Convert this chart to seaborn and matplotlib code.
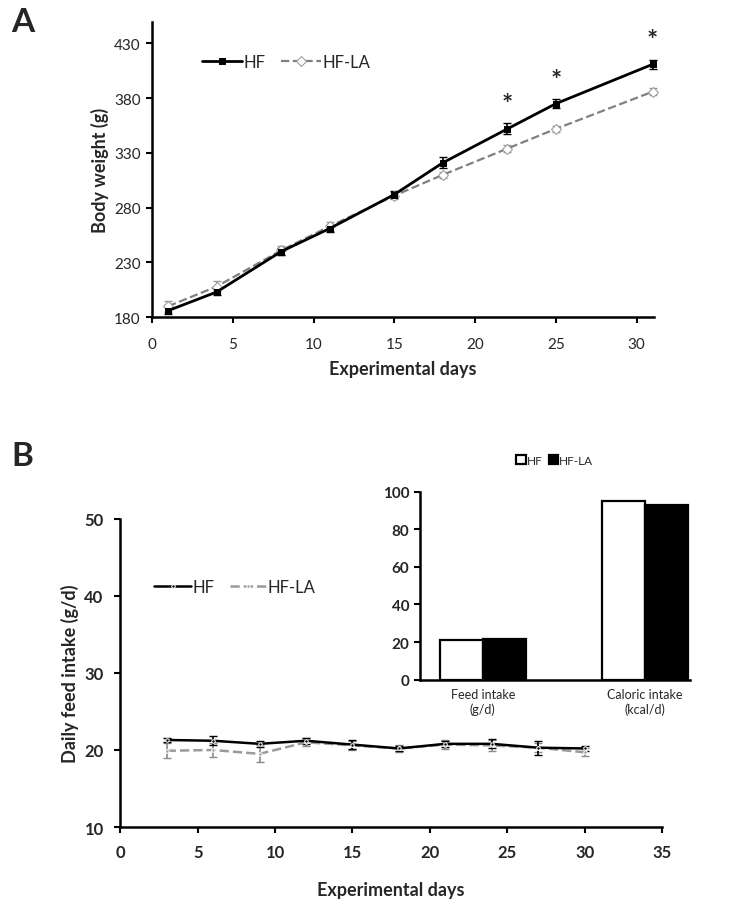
import numpy as np
import pandas as pd
import matplotlib
matplotlib.use("Agg")
import matplotlib.pyplot as plt
import seaborn as sns

# Panel A: body weight
days_a = [1, 4, 8, 11, 15, 18, 22, 25, 31]
hf_bw = [186, 203, 240, 261, 292, 321, 352, 375, 411]
hf_bw_err = [3, 3, 3, 3, 3, 5, 5, 4, 4]
hfla_bw = [190, 208, 241, 263, 291, 310, 334, 352, 386]
hfla_bw_err = [5, 5, 4, 4, 3, 3, 3, 3, 3]
sig_days = [22, 25, 31]

# Panel B: daily feed intake
days_b = [3, 6, 9, 12, 15, 18, 21, 24, 27, 30]
hf_fi = [21.3, 21.2, 20.8, 21.2, 20.7, 20.2, 20.8, 20.8, 20.3, 20.2]
hf_fi_err = [0.3, 0.6, 0.4, 0.4, 0.6, 0.3, 0.4, 0.6, 0.9, 0.3]
hfla_fi = [19.9, 20.0, 19.5, 21.0, 20.6, 20.2, 20.7, 20.6, 20.3, 19.7]
hfla_fi_err = [1.0, 0.9, 1.1, 0.5, 0.6, 0.5, 0.6, 0.7, 0.6, 0.5]

# inset bars
inset_cats = ["Feed intake\n(g/d)", "Caloric intake\n(kcal/d)"]
inset_hf = [21, 95]
inset_hfla = [21.5, 93]

sns.set_theme(style="white")
plt.rcParams["font.family"] = ["Lato", "DejaVu Sans"]
plt.rcParams["axes.linewidth"] = 1.8

fig = plt.figure(figsize=(7.29, 9.04), dpi=100)

def style_axes(ax, bold=True):
    sns.despine(ax=ax)
    ax.tick_params(axis="both", direction="out", length=4, width=1.5, color="black",
                   left=True, bottom=True)
    for lab in ax.get_xticklabels() + ax.get_yticklabels():
        lab.set_fontweight("bold" if bold else "normal")
    for s in ["left", "bottom"]:
        ax.spines[s].set_color("black")

# ---- Panel A ----
ax1 = fig.add_axes([0.2085, 0.648, 0.689, 0.327])
df_a = pd.DataFrame({
    "day": days_a * 2,
    "bw": hf_bw + hfla_bw,
    "group": ["HF"] * len(days_a) + ["HF-LA"] * len(days_a),
})
eb1 = ax1.errorbar(days_a, hfla_bw, yerr=hfla_bw_err, fmt="none", ecolor="#9a9a9a",
                   capsize=3, elinewidth=1.2, zorder=2)
eb2 = ax1.errorbar(days_a, hf_bw, yerr=hf_bw_err, fmt="none", ecolor="black",
                   capsize=3, elinewidth=1.2, zorder=2)
sns.lineplot(data=df_a[df_a.group == "HF-LA"], x="day", y="bw", ax=ax1, color="#808080",
             linestyle="--", linewidth=1.6, marker="D", markersize=5,
             markerfacecolor="white", markeredgecolor="#9a9a9a", label="HF-LA", zorder=3)
sns.lineplot(data=df_a[df_a.group == "HF"], x="day", y="bw", ax=ax1, color="black",
             linewidth=2, marker="s", markersize=5, markeredgecolor="black",
             label="HF", zorder=4)
for ln in ax1.lines:
    ln.set_clip_on(False)
for eb in (eb1, eb2):
    for part in eb.lines:
        for p in (part if isinstance(part, tuple) else [part]):
            if p is not None:
                p.set_clip_on(False)
for d in sig_days:
    i = days_a.index(d)
    ax1.text(d, hf_bw[i] + hf_bw_err[i] + 7, "*", ha="center", va="bottom",
             fontsize=19, fontweight="bold")
ax1.set_xlim(0, 31.1)
ax1.set_ylim(180, 450)
ax1.set_xticks([0, 5, 10, 15, 20, 25, 30])
ax1.set_yticks([180, 230, 280, 330, 380, 430])
ax1.set_xlabel("Experimental days", fontsize=13, fontweight="bold", labelpad=7)
ax1.set_ylabel("Body weight (g)", fontsize=13, fontweight="bold")
ax1.tick_params(labelsize=11)
style_axes(ax1, bold=False)
ax1.tick_params(axis="x", pad=10)
ax1.tick_params(axis="y", pad=4)
h, l = ax1.get_legend_handles_labels()
ax1.legend(h[::-1], l[::-1], loc="center left", bbox_to_anchor=(0.07, 0.865), ncol=2,
           frameon=False, fontsize=12, handlelength=2.4, columnspacing=0.9,
           handletextpad=0.1)

# ---- Panel B ----
ax2 = fig.add_axes([0.165, 0.084, 0.743, 0.341])
df_b = pd.DataFrame({
    "day": days_b * 2,
    "fi": hf_fi + hfla_fi,
    "group": ["HF"] * len(days_b) + ["HF-LA"] * len(days_b),
})
ax2.errorbar(days_b, hfla_fi, yerr=hfla_fi_err, fmt="none", ecolor="#8a8a8a",
             capsize=3, elinewidth=1.2, zorder=2)
ax2.errorbar(days_b, hf_fi, yerr=hf_fi_err, fmt="none", ecolor="black",
             capsize=3, elinewidth=1.2, zorder=2)
sns.lineplot(data=df_b[df_b.group == "HF"], x="day", y="fi", ax=ax2, color="black",
             linewidth=1.8, marker="o", markersize=2.5, label="HF", zorder=4)
sns.lineplot(data=df_b[df_b.group == "HF-LA"], x="day", y="fi", ax=ax2, color="#9a9a9a",
             linestyle="--", linewidth=1.8, marker="o", markersize=2.5, label="HF-LA", zorder=3)
ax2.set_xlim(0, 35)
ax2.set_ylim(10, 50)
ax2.set_xticks([0, 5, 10, 15, 20, 25, 30, 35])
ax2.set_yticks([10, 20, 30, 40, 50])
ax2.set_xlabel("Experimental days", fontsize=13, fontweight="bold", labelpad=15)
ax2.set_ylabel("Daily feed intake (g/d)", fontsize=13, fontweight="bold", labelpad=4)
ax2.tick_params(labelsize=12)
style_axes(ax2)
ax2.tick_params(axis="both", pad=8)
ax2.legend(loc="center left", bbox_to_anchor=(0.035, 0.78), ncol=2, frameon=False,
           fontsize=12, handlelength=2.2, columnspacing=0.9, handletextpad=0.1)

# ---- Inset ----
ax3 = fig.add_axes([0.576, 0.247, 0.370, 0.208])
df_c = pd.DataFrame({
    "cat": inset_cats * 2,
    "val": inset_hf + inset_hfla,
    "group": ["HF"] * 2 + ["HF-LA"] * 2,
})
sns.barplot(data=df_c, x="cat", y="val", hue="group", ax=ax3,
            palette={"HF": "white", "HF-LA": "black"}, width=0.53,
            edgecolor="black", linewidth=1.6, legend=True)
ax3.set_xlim(-0.389, 1.278)
ax3.set_ylim(0, 100)
ax3.set_yticks([0, 20, 40, 60, 80, 100])
ax3.set_xlabel("")
ax3.set_ylabel("")
ax3.tick_params(labelsize=11)
style_axes(ax3)
ax3.tick_params(axis="x", length=0, labelsize=9, pad=6)
for lab in ax3.get_xticklabels():
    lab.set_fontweight("normal")
ax3.legend(loc="lower center", bbox_to_anchor=(0.5, 1.08), ncol=2, frameon=False,
           fontsize=8.5, handlelength=0.8, handleheight=0.8, columnspacing=0.5,
           handletextpad=0.1)

fig.text(0.015, 0.975, "A", fontsize=24, fontweight="bold", va="center")
fig.text(0.015, 0.495, "B", fontsize=24, fontweight="bold", va="center")

fig.savefig("out.png", dpi=100, facecolor="white")
